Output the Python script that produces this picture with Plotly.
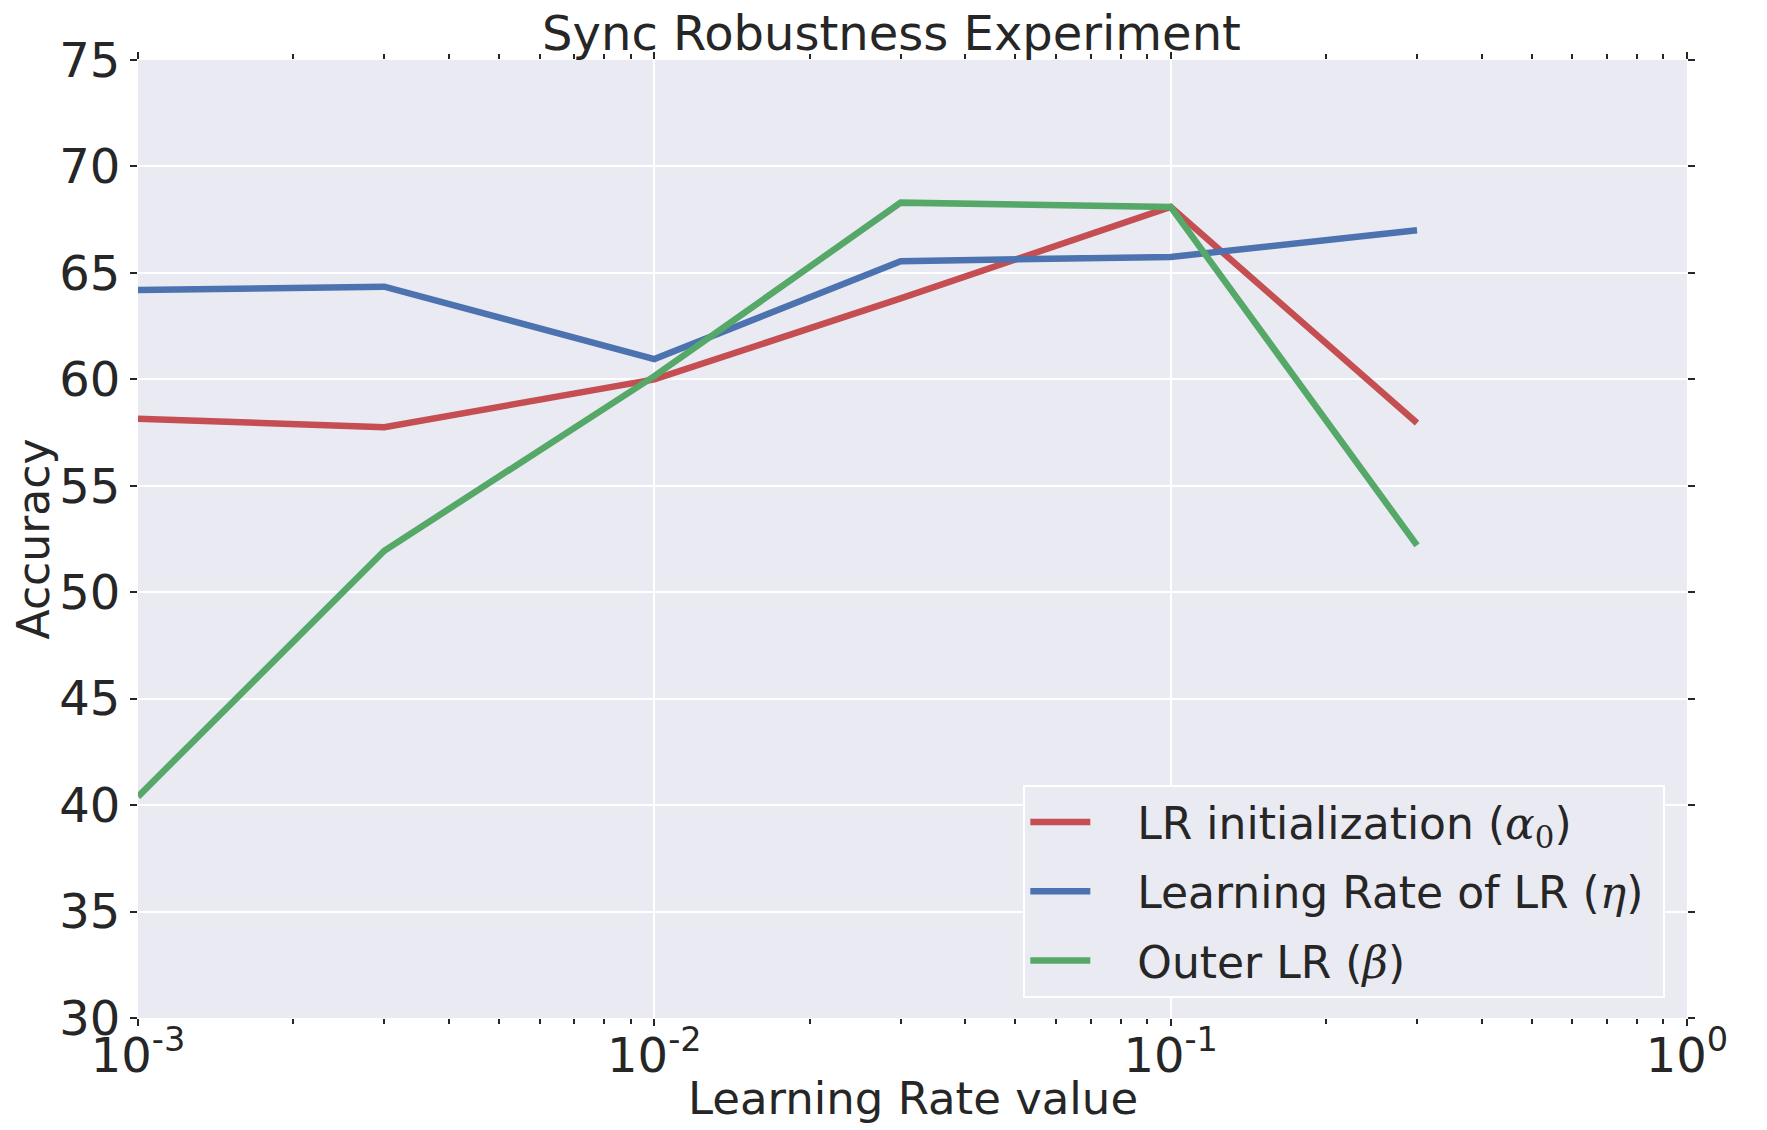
import plotly.graph_objects as go

# ---- data ----
learning_rates = [0.001, 0.003, 0.01, 0.03, 0.1, 0.3]
lr_init_acc = [58.15, 57.75, 60.0, 63.8, 68.1, 57.95]
lr_of_lr_acc = [64.2, 64.35, 60.95, 65.55, 65.75, 67.0]
outer_lr_acc = [40.4, 51.95, 60.15, 68.3, 68.1, 52.2]

GAP = "\u00a0\u00a0\u00a0"
END = "\u00a0"
series_names = [
    GAP + "LR initialization (<span style='font-family:DejaVu Serif'><i>α</i><sub>0</sub></span>)" + END,
    GAP + "Learning Rate of LR (<span style='font-family:DejaVu Serif'><i>η</i></span>)" + END,
    GAP + "Outer LR (<span style='font-family:DejaVu Serif'><i>β</i></span>)" + END,
]
series_colors = ["#C44E52", "#4C72B0", "#55A868"]

x_tick_vals = [0.001, 0.01, 0.1, 1]
x_tick_text = ["10<sup>-3</sup>", "10<sup>-2</sup>", "10<sup>-1</sup>", "10<sup>0</sup>"]
x_minor_vals = [m * 10 ** e for e in (-3, -2, -1) for m in range(2, 10)]
y_tick_vals = [30, 35, 40, 45, 50, 55, 60, 65, 70, 75]

title_text = "Sync Robustness Experiment"
x_title = "Learning Rate value"
y_title = "Accuracy"

TEXT = "#262626"
BG = "#EAEAF2"

fig = go.Figure()
for i, (name, ys, col) in enumerate(zip(series_names, [lr_init_acc, lr_of_lr_acc, outer_lr_acc], series_colors)):
    fig.add_trace(go.Scatter(x=learning_rates, y=ys, mode="lines", name=name,
                             legendgroup=f"g{i}",
                             line=dict(color=col, width=6.5)))

fig.update_layout(
    width=1767, height=1130,
    margin=dict(l=130, r=88, t=52, b=120),
    paper_bgcolor="white", plot_bgcolor=BG,
    font=dict(family="DejaVu Sans", color=TEXT, size=44),
    title=dict(text=title_text, x=0.5, xanchor="center",
               y=0.993, yanchor="top", font=dict(size=48, color=TEXT)),
    showlegend=True,
    legend=dict(x=0.986, xanchor="right", y=0.021, yanchor="bottom",
                bgcolor=BG, bordercolor="white", borderwidth=2,
                font=dict(size=44, color=TEXT), itemwidth=60,
                tracegroupgap=9, traceorder="grouped"),
)

fig.update_xaxes(
    type="log", range=[-3, 0],
    tickmode="array", tickvals=x_tick_vals, ticktext=x_tick_text,
    ticks="outside", ticklen=7, tickwidth=1.5, tickcolor=TEXT,
    tickfont=dict(size=48, color=TEXT), ticklabelstandoff=-12,
    showgrid=True, gridcolor="white", gridwidth=1.5,
    showline=False, zeroline=False, mirror="ticks",
    minor=dict(tickmode="array", tickvals=x_minor_vals, ticks="outside",
               ticklen=5, tickwidth=1.5, tickcolor=TEXT, showgrid=False),
)
fig.update_yaxes(
    range=[30, 75], tickmode="array", tickvals=y_tick_vals,
    ticks="outside", ticklen=7, tickwidth=1.5, tickcolor=TEXT,
    tickfont=dict(size=48, color=TEXT),
    showgrid=True, gridcolor="white", gridwidth=1.5,
    showline=False, zeroline=False, mirror="ticks",
    title=dict(text=y_title, font=dict(size=44, color=TEXT), standoff=8),
)

fig.add_annotation(text=x_title, xref="paper", yref="paper", x=0.5, y=0,
                   xanchor="center", yanchor="middle", yshift=-80, showarrow=False,
                   font=dict(size=45, color=TEXT))

fig.write_html("out.html")
